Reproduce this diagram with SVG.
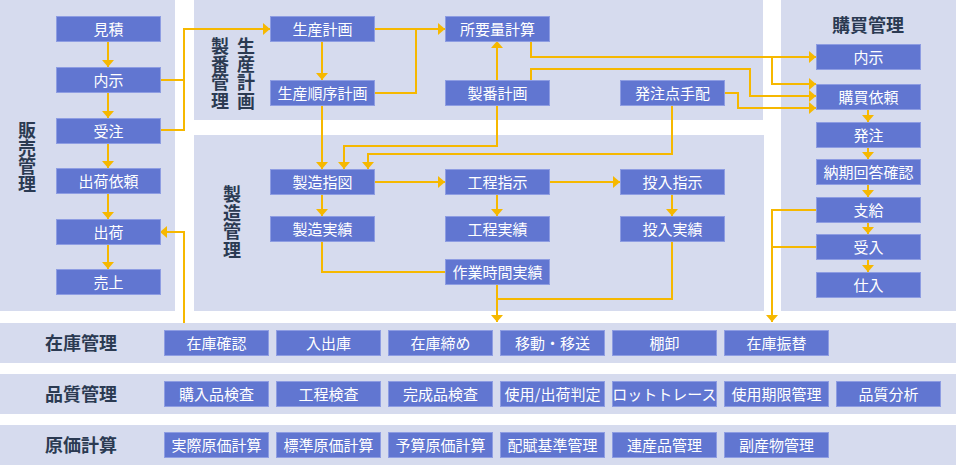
<svg xmlns="http://www.w3.org/2000/svg" width="956" height="465" viewBox="0 0 956 465">
<defs>
<style>
.panel{fill:#d6dbee}
.node rect{fill:#6176d1;stroke:#8e9de2;stroke-width:1}
.node text{fill:#ffffff;font-family:"Noto Sans CJK JP","Noto Sans",sans-serif;font-size:15px;text-anchor:middle}
.lbl{fill:#2b3a52;font-family:"Noto Sans CJK JP","Noto Sans",sans-serif;font-size:18px;font-weight:bold;text-anchor:middle}
.vert{writing-mode:vertical-rl;text-orientation:upright}
.conn path{fill:none;stroke:#f6b800;stroke-width:2}
.conn path.a{marker-end:url(#arr)}
</style>
<marker id="arr" viewBox="0 0 7 12" refX="7" refY="6" markerWidth="7" markerHeight="12" markerUnits="userSpaceOnUse" orient="auto">
<path d="M0,0 L7,6 L0,12 z" fill="#f6b800"/>
</marker>
</defs>
<rect width="956" height="465" fill="#ffffff"/>
<g id="panels">
<rect class="panel" x="0" y="0" width="175" height="311"/>
<rect class="panel" x="194" y="0" width="569" height="120"/>
<rect class="panel" x="194" y="135" width="570" height="176"/>
<rect class="panel" x="781" y="0" width="175" height="311"/>
<rect class="panel" x="0" y="323" width="956" height="40"/>
<rect class="panel" x="0" y="374" width="956" height="40"/>
<rect class="panel" x="0" y="425" width="956" height="40"/>
</g>
<g id="labels">
<text class="lbl vert" x="27" y="157.5">販売管理</text>
<text class="lbl vert" x="220" y="73.5" letter-spacing="0.3">製番管理</text>
<text class="lbl vert" x="246" y="73.5" letter-spacing="0.3">生産計画</text>
<text class="lbl vert" x="232" y="222.5" letter-spacing="0.7">製造管理</text>
<text class="lbl" x="868" y="31.5">購買管理</text>
<text class="lbl" x="81" y="349.5">在庫管理</text>
<text class="lbl" x="81" y="400.5">品質管理</text>
<text class="lbl" x="81" y="451.5">原価計算</text>
</g>
<g id="connectors" class="conn">
<path class="a" d="M108,41 V67"/>
<path class="a" d="M108,92 V118"/>
<path class="a" d="M108,143 V168"/>
<path class="a" d="M108,193 V219"/>
<path class="a" d="M108,244 V269"/>
<path d="M160,80 H184"/>
<path class="a" d="M160,130 H184 V29 H270"/>
<path class="a" d="M184,323 V232 H160"/>
<path class="a" d="M322,41 V80"/>
<path d="M375,29 H416"/>
<path class="a" d="M375,93 H416 V29 H445"/>
<path class="a" d="M497,80 V41"/>
<path class="a" d="M497,106 V146 H344 V169"/>
<path class="a" d="M322,106 V169"/>
<path class="a" d="M672,106 V154 H368 V169"/>
<path class="a" d="M531,41 V57 H816"/>
<path class="a" d="M772,57 V84 H816"/>
<path class="a" d="M531,80 V69 H750 V96 H816"/>
<path class="a" d="M724,93 H738 V108 H816"/>
<path class="a" d="M868,109 V122"/>
<path class="a" d="M868,147 V159"/>
<path class="a" d="M868,184 V197"/>
<path class="a" d="M868,222 V234"/>
<path class="a" d="M868,259 V272"/>
<path class="a" d="M816,210 H772 V322"/>
<path d="M816,247 H772"/>
<path class="a" d="M375,182 H445"/>
<path class="a" d="M549,182 H620"/>
<path class="a" d="M322,194 V216"/>
<path class="a" d="M497,194 V216"/>
<path class="a" d="M672,194 V216"/>
<path d="M322,241 V272 H445"/>
<path class="a" d="M497,284 V322"/>
<path d="M672,241 V299 H497"/>
</g>
<g id="n-mitsumori" class="node"><rect x="56.5" y="16.5" width="104" height="25"/><text x="108.5" y="34.5">見積</text></g>
<g id="n-naiji" class="node"><rect x="56.5" y="67.5" width="104" height="25"/><text x="108.5" y="85.5">内示</text></g>
<g id="n-juchu" class="node"><rect x="56.5" y="118.5" width="104" height="25"/><text x="108.5" y="136.5">受注</text></g>
<g id="n-shukkairai" class="node"><rect x="56.5" y="168.5" width="104" height="25"/><text x="108.5" y="186.5">出荷依頼</text></g>
<g id="n-shukka" class="node"><rect x="56.5" y="219.5" width="104" height="25"/><text x="108.5" y="237.5">出荷</text></g>
<g id="n-uriage" class="node"><rect x="56.5" y="269.5" width="104" height="25"/><text x="108.5" y="287.5">売上</text></g>

<g id="n-seisankeikaku" class="node"><rect x="270.5" y="16.5" width="104" height="25"/><text x="322.5" y="34.5">生産計画</text></g>
<g id="n-junjo" class="node"><rect x="270.5" y="80.5" width="104" height="25"/><text x="322.5" y="98.5">生産順序計画</text></g>
<g id="n-shoyoryo" class="node"><rect x="445.5" y="16.5" width="104" height="25"/><text x="497.5" y="34.5">所要量計算</text></g>
<g id="n-seiban" class="node"><rect x="445.5" y="80.5" width="104" height="25"/><text x="497.5" y="98.5">製番計画</text></g>
<g id="n-hatchuten" class="node"><rect x="620.5" y="80.5" width="104" height="25"/><text x="672.5" y="98.5">発注点手配</text></g>

<g id="n-seizoshizu" class="node"><rect x="270.5" y="169.5" width="104" height="25"/><text x="322.5" y="187.5">製造指図</text></g>
<g id="n-seizojisseki" class="node"><rect x="270.5" y="216.5" width="104" height="25"/><text x="322.5" y="234.5">製造実績</text></g>
<g id="n-koteishiji" class="node"><rect x="445.5" y="169.5" width="104" height="25"/><text x="497.5" y="187.5">工程指示</text></g>
<g id="n-koteijisseki" class="node"><rect x="445.5" y="216.5" width="104" height="25"/><text x="497.5" y="234.5">工程実績</text></g>
<g id="n-sagyojikan" class="node"><rect x="445.5" y="259.5" width="104" height="25"/><text x="497.5" y="277.5">作業時間実績</text></g>
<g id="n-tonyushiji" class="node"><rect x="620.5" y="169.5" width="104" height="25"/><text x="672.5" y="187.5">投入指示</text></g>
<g id="n-tonyujisseki" class="node"><rect x="620.5" y="216.5" width="104" height="25"/><text x="672.5" y="234.5">投入実績</text></g>

<g id="n-k-naiji" class="node"><rect x="816.5" y="44.5" width="104" height="25"/><text x="868.5" y="62.5">内示</text></g>
<g id="n-k-irai" class="node"><rect x="816.5" y="84.5" width="104" height="25"/><text x="868.5" y="102.5">購買依頼</text></g>
<g id="n-k-hatchu" class="node"><rect x="816.5" y="122.5" width="104" height="25"/><text x="868.5" y="140.5">発注</text></g>
<g id="n-k-noki" class="node"><rect x="816.5" y="159.5" width="104" height="25"/><text x="868.5" y="177.5">納期回答確認</text></g>
<g id="n-k-shikyu" class="node"><rect x="816.5" y="197.5" width="104" height="25"/><text x="868.5" y="215.5">支給</text></g>
<g id="n-k-ukeire" class="node"><rect x="816.5" y="234.5" width="104" height="25"/><text x="868.5" y="252.5">受入</text></g>
<g id="n-k-shiire" class="node"><rect x="816.5" y="272.5" width="104" height="25"/><text x="868.5" y="290.5">仕入</text></g>

<g id="n-z1" class="node"><rect x="164.5" y="330.5" width="104" height="25"/><text x="216.5" y="348.5">在庫確認</text></g>
<g id="n-z2" class="node"><rect x="276.5" y="330.5" width="104" height="25"/><text x="328.5" y="348.5">入出庫</text></g>
<g id="n-z3" class="node"><rect x="388.5" y="330.5" width="104" height="25"/><text x="440.5" y="348.5">在庫締め</text></g>
<g id="n-z4" class="node"><rect x="500.5" y="330.5" width="104" height="25"/><text x="552.5" y="348.5">移動・移送</text></g>
<g id="n-z5" class="node"><rect x="612.5" y="330.5" width="104" height="25"/><text x="664.5" y="348.5">棚卸</text></g>
<g id="n-z6" class="node"><rect x="724.5" y="330.5" width="104" height="25"/><text x="776.5" y="348.5">在庫振替</text></g>

<g id="n-h1" class="node"><rect x="164.5" y="381.5" width="104" height="25"/><text x="216.5" y="399.5">購入品検査</text></g>
<g id="n-h2" class="node"><rect x="276.5" y="381.5" width="104" height="25"/><text x="328.5" y="399.5">工程検査</text></g>
<g id="n-h3" class="node"><rect x="388.5" y="381.5" width="104" height="25"/><text x="440.5" y="399.5">完成品検査</text></g>
<g id="n-h4" class="node"><rect x="500.5" y="381.5" width="104" height="25"/><text x="552.5" y="399.5">使用/出荷判定</text></g>
<g id="n-h5" class="node"><rect x="612.5" y="381.5" width="104" height="25"/><text x="664.5" y="399.5">ロットトレース</text></g>
<g id="n-h6" class="node"><rect x="724.5" y="381.5" width="104" height="25"/><text x="776.5" y="399.5">使用期限管理</text></g>
<g id="n-h7" class="node"><rect x="836.5" y="381.5" width="104" height="25"/><text x="888.5" y="399.5">品質分析</text></g>

<g id="n-g1" class="node"><rect x="164.5" y="432.5" width="104" height="25"/><text x="216.5" y="450.5">実際原価計算</text></g>
<g id="n-g2" class="node"><rect x="276.5" y="432.5" width="104" height="25"/><text x="328.5" y="450.5">標準原価計算</text></g>
<g id="n-g3" class="node"><rect x="388.5" y="432.5" width="104" height="25"/><text x="440.5" y="450.5">予算原価計算</text></g>
<g id="n-g4" class="node"><rect x="500.5" y="432.5" width="104" height="25"/><text x="552.5" y="450.5">配賦基準管理</text></g>
<g id="n-g5" class="node"><rect x="612.5" y="432.5" width="104" height="25"/><text x="664.5" y="450.5">連産品管理</text></g>
<g id="n-g6" class="node"><rect x="724.5" y="432.5" width="104" height="25"/><text x="776.5" y="450.5">副産物管理</text></g>
</svg>
